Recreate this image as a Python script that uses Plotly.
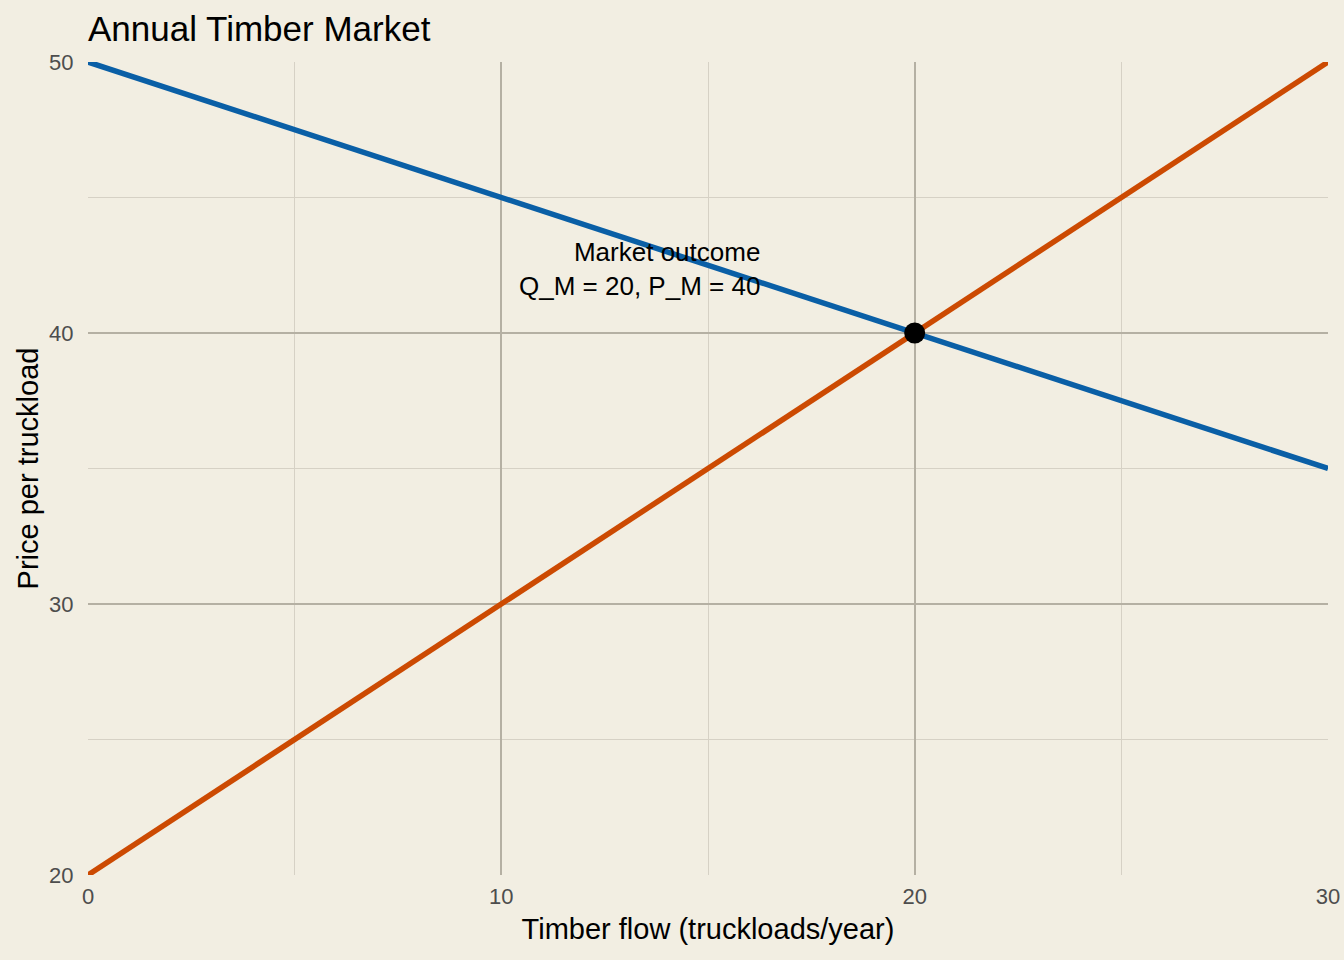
import plotly.graph_objects as go

# --- Data ---
quantity = [0, 30]
demand_price = [50, 35]
supply_price = [20, 50]
eq_q = [20]
eq_p = [40]

BG = "#F2EEE2"
FONT = "Liberation Sans, Arial, Helvetica, sans-serif"

fig = go.Figure()

fig.add_trace(go.Scatter(
    x=quantity, y=demand_price, mode="lines",
    line=dict(color="#0A5FA6", width=5.5), name="Demand",
))
fig.add_trace(go.Scatter(
    x=quantity, y=supply_price, mode="lines",
    line=dict(color="#CC4A02", width=5.5), name="Supply",
))
fig.add_trace(go.Scatter(
    x=eq_q, y=eq_p, mode="markers",
    marker=dict(color="black", size=21), name="Market outcome",
))

fig.add_annotation(
    x=16.31, y=42.35, xref="x", yref="y",
    text="Market outcome<br>Q_M = 20, P_M = 40",
    showarrow=False, xanchor="right", yanchor="middle", align="right",
    font=dict(family=FONT, size=26, color="black"),
)

axis_common = dict(
    showline=False, zeroline=False, automargin=False,
    gridcolor="#B5B0A3", gridwidth=2.2,
    minor=dict(showgrid=True, gridcolor="#D6D1C5", gridwidth=1.2),
    ticks="outside", tickcolor=BG,
    tickfont=dict(family=FONT, size=22, color="#4D4D4D"),
    title_font=dict(family=FONT, size=29, color="black"),
)

fig.update_xaxes(
    range=[0, 30], tickvals=[0, 10, 20, 30], ticklen=2,
    title_text="Timber flow (truckloads/year)", title_standoff=10,
    **axis_common,
)
fig.update_yaxes(
    range=[20, 50], tickvals=[20, 30, 40, 50], ticklen=9,
    title_text="Price per truckload", title_standoff=1,
    **axis_common,
)
fig.update_xaxes(minor_tickvals=[5, 15, 25])
fig.update_yaxes(minor_tickvals=[25, 35, 45])

fig.update_layout(
    width=1344, height=960,
    paper_bgcolor=BG, plot_bgcolor=BG,
    showlegend=False,
    margin=dict(l=88, r=16, t=62, b=85),
    title=dict(
        text="Annual Timber Market",
        font=dict(family=FONT, size=35, color="black"),
        x=88 / 1344, xanchor="left", xref="container",
        y=1 - 29 / 960, yanchor="middle", yref="container",
    ),
)

fig.write_html(
    "out.html",
    config={"displayModeBar": False},
    post_script="document.body.style.margin='0';",
)
